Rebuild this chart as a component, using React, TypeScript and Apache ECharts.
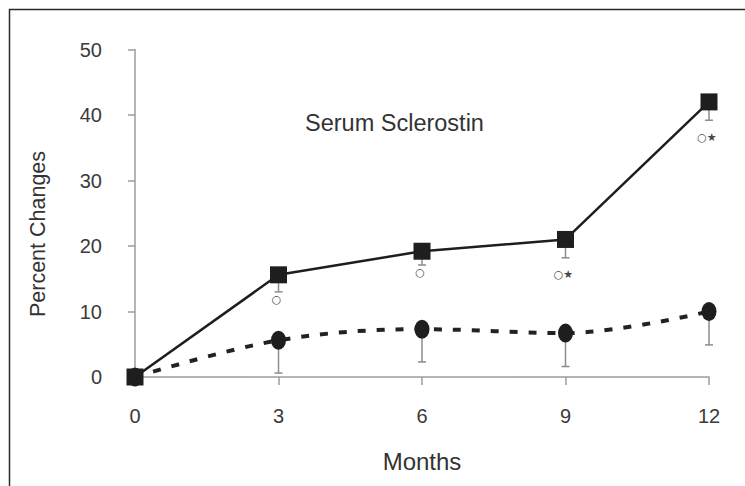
import React, { useEffect, useRef } from "react";
import * as echarts from "echarts";

// ---- data ----
const months = [0, 3, 6, 9, 12];
const squareValues = [0, 15.6, 19.2, 21.0, 42.0];
const squareLow = [0, 13.0, 17.1, 18.2, 39.2];
const circleValues = [0, 5.6, 7.3, 6.7, 10.0];
const circleLow = [0, 0.6, 2.3, 1.6, 4.9];
const sigMarks = ["", "○", "○", "○★", "○★"];

const chartTitle = "Serum Sclerostin";
const xName = "Months";
const yName = "Percent Changes";

const FONT = "'Liberation Sans', Arial, Helvetica, sans-serif";
const AXIS_GRAY = "#9c9c9c";
const INK = "#1e1e1e";
const ELLIPSE = "path://M50,0 A50,50 0 1,1 50,100 A50,50 0 1,1 50,0 Z";

function errorBarRender(params: any, api: any) {
  const x = api.value(0);
  const v = api.value(1);
  const lo = api.value(2);
  if (v === lo) return { type: "group", children: [] };
  const top = api.coord([x, v]);
  const bot = api.coord([x, lo]);
  const hw = 4;
  const style = { stroke: "#8c8c8c", lineWidth: 1.5 };
  return {
    type: "group",
    children: [
      { type: "line", shape: { x1: top[0], y1: top[1], x2: bot[0], y2: bot[1] }, style },
      { type: "line", shape: { x1: bot[0] - hw, y1: bot[1], x2: bot[0] + hw, y2: bot[1] }, style },
    ],
  };
}

function sigRender(params: any, api: any) {
  const mark = sigMarks[params.dataIndex];
  if (!mark) return { type: "group", children: [] };
  const p = api.coord([api.value(0), api.value(1)]);
  const off = mark.indexOf("★") >= 0 ? 17 : 8;
  return {
    type: "text",
    x: p[0] - 2,
    y: p[1] + off,
    style: {
      text: mark,
      align: "center",
      verticalAlign: "middle",
      fontSize: 11,
      fontFamily: "'DejaVu Sans', sans-serif",
      fill: "#4a4a4a",
    },
  };
}

export default function App() {
  const ref = useRef<HTMLDivElement>(null);
  useEffect(() => {
    if (!ref.current) return;
    const chart = echarts.init(ref.current, undefined, { renderer: "svg" });
    const sqData = months.map((m, i) => [m, squareValues[i]]);
    const ciData = months.map((m, i) => [m, circleValues[i]]);
    const sqErr = months.map((m, i) => [m, squareValues[i], squareLow[i]]);
    const ciErr = months.map((m, i) => [m, circleValues[i], circleLow[i]]);
    const sigData = months.map((m, i) => [m, squareLow[i]]);
    chart.setOption({
      animation: false,
      backgroundColor: "#ffffff",
      title: {
        text: chartTitle,
        left: 305,
        top: 111,
        padding: 0,
        textStyle: { fontFamily: FONT, fontSize: 23.5, fontWeight: "normal", color: "#333" },
      },
      grid: { left: 135, right: 36, top: 49.5, bottom: 109, containLabel: false },
      xAxis: {
        type: "value",
        min: 0,
        max: 12,
        interval: 3,
        splitLine: { show: false },
        axisLine: { show: true, lineStyle: { color: AXIS_GRAY, width: 1.5 } },
        axisTick: { show: true, length: 8, lineStyle: { color: AXIS_GRAY, width: 1.5 } },
        axisLabel: { margin: 29, fontSize: 20, color: "#3a3a3a", fontFamily: FONT },
        name: xName,
        nameLocation: "middle",
        nameGap: 72,
        nameTextStyle: { fontSize: 24, color: "#333", fontFamily: FONT },
      },
      yAxis: {
        type: "value",
        min: 0,
        max: 50,
        interval: 10,
        splitLine: { show: false },
        axisLine: { show: true, lineStyle: { color: AXIS_GRAY, width: 1.5 } },
        axisTick: { show: true, length: 7, lineStyle: { color: AXIS_GRAY, width: 1.5 } },
        axisLabel: { margin: 33, fontSize: 20, color: "#3a3a3a", fontFamily: FONT },
      },
      graphic: [
        {
          type: "rect",
          silent: true,
          shape: { x: 9.5, y: 9.5, width: 900, height: 700 },
          style: { fill: "none", stroke: "#2a2a2a", lineWidth: 1.5 },
        },
        {
          type: "text",
          silent: true,
          x: 38,
          y: 234,
          rotation: Math.PI / 2,
          style: {
            text: yName,
            align: "center",
            verticalAlign: "middle",
            fontSize: 21.5,
            fontFamily: FONT,
            fill: "#333",
          },
        },
      ],
      series: [
        {
          type: "custom",
          name: "sqErr",
          renderItem: errorBarRender,
          data: sqErr,
          z: 1,
          silent: true,
        },
        {
          type: "custom",
          name: "ciErr",
          renderItem: errorBarRender,
          data: ciErr,
          z: 1,
          silent: true,
        },
        {
          type: "custom",
          name: "sig",
          renderItem: sigRender,
          data: sigData,
          z: 1,
          silent: true,
        },
        {
          type: "line",
          name: "Circles",
          data: ciData,
          smooth: 0.35,
          symbol: ELLIPSE,
          symbolSize: [15, 19],
          itemStyle: { color: INK },
          lineStyle: { color: "#222", width: 4, type: [8, 11] },
          z: 3,
        },
        {
          type: "line",
          name: "Squares",
          data: sqData,
          symbol: "rect",
          symbolSize: 17,
          itemStyle: { color: INK },
          lineStyle: { color: INK, width: 2.5 },
          z: 4,
        },
      ],
    });
    return () => chart.dispose();
  }, []);
  return (
    <div
      ref={ref}
      style={{ position: "fixed", left: 0, top: 0, width: 745, height: 486 }}
    />
  );
}
